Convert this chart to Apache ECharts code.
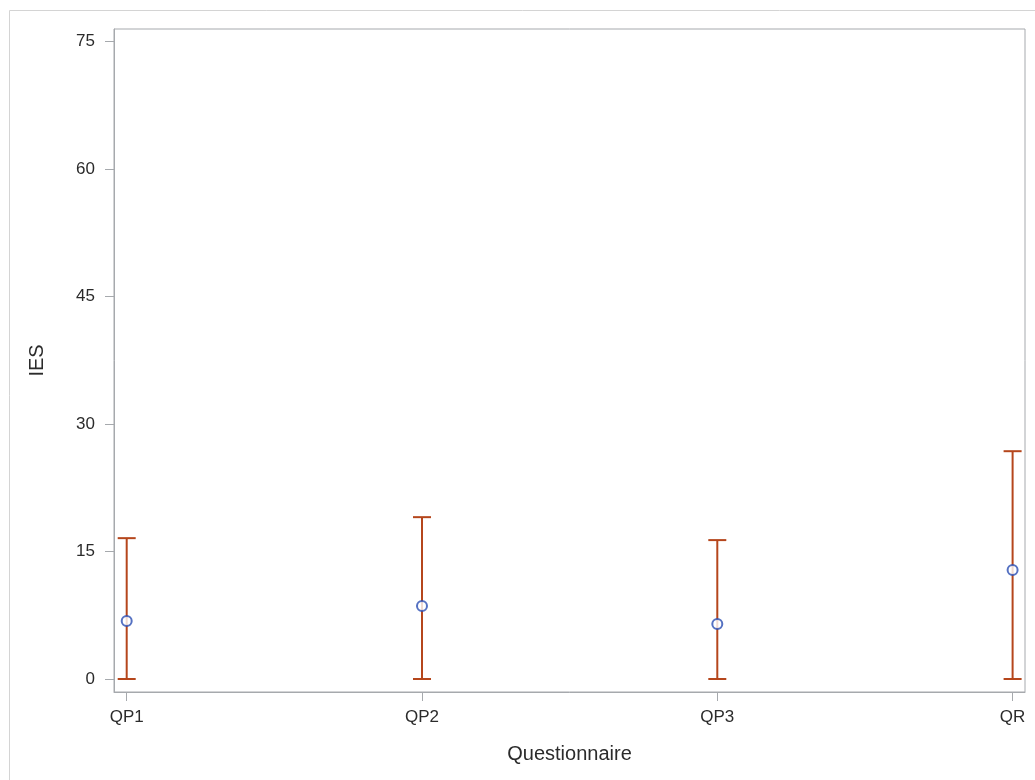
<!DOCTYPE html>
<html>
<head>
<meta charset="utf-8">
<script src="https://cdn.jsdelivr.net/npm/echarts@6/dist/echarts.min.js"></script>
<style>
html,body{margin:0;padding:0;background:#fff;}
#chart{width:1035px;height:780px;}
</style>
</head>
<body>
<div id="chart"></div>
<script>
const categories = ['QP1', 'QP2', 'QP3', 'QR'];
const means = [6.82, 8.58, 6.47, 12.81];
const lowers = [0, 0, 0, 0];
const uppers = [16.57, 19.04, 16.34, 26.8];
const yTicks = [0, 15, 30, 45, 60, 75];

const FONT = '"Liberation Sans", Arial, sans-serif';
const AXIS_COLOR = '#a6a9ad';
const BAR_COLOR = '#b5461c';
const MARK_COLOR = '#2a4db3';
const TEXT_COLOR = '#2b2b2b';

const chart = echarts.init(document.getElementById('chart'), null, {renderer: 'canvas'});

const barData = categories.map((c, i) => [i, lowers[i], uppers[i]]);
const meanData = categories.map((c, i) => [i, means[i]]);

chart.setOption({
  backgroundColor: '#fff',
  animation: false,
  graphic: [{
    type: 'rect',
    shape: {x: 9.5, y: 10.5, width: 1040, height: 800},
    style: {fill: 'none', stroke: '#d4d4d4', lineWidth: 1},
    silent: true
  }],
  grid: {left: 114, top: 29, right: 10, bottom: 88, show: true, borderColor: AXIS_COLOR, borderWidth: 1, backgroundColor: 'transparent'},
  xAxis: {
    type: 'value',
    min: -0.043,
    max: 3.042,
    name: 'Questionnaire',
    nameLocation: 'middle',
    nameGap: 52,
    nameTextStyle: {fontFamily: FONT, fontSize: 20, color: TEXT_COLOR},
    axisLine: {show: true, onZero: false, lineStyle: {color: AXIS_COLOR}},
    axisTick: {show: true, length: 9, customValues: [0, 1, 2, 3], lineStyle: {color: AXIS_COLOR}},
    axisLabel: {customValues: [0, 1, 2, 3], formatter: v => categories[v] || '', fontFamily: FONT, fontSize: 17, color: TEXT_COLOR, margin: 17},
    splitLine: {show: false}
  },
  yAxis: {
    type: 'value',
    min: -1.53,
    max: 76.47,
    name: 'IES',
    nameLocation: 'middle',
    nameGap: 67,
    nameRotate: 90,
    nameTextStyle: {fontFamily: FONT, fontSize: 20, color: TEXT_COLOR},
    axisLine: {show: true, onZero: false, lineStyle: {color: AXIS_COLOR}},
    axisTick: {show: true, length: 9, customValues: yTicks, lineStyle: {color: AXIS_COLOR}},
    axisLabel: {customValues: yTicks, fontFamily: FONT, fontSize: 17, color: TEXT_COLOR, margin: 19},
    splitLine: {show: false}
  },
  series: [{
    type: 'custom',
    data: barData,
    renderItem: function (params, api) {
      const x = api.value(0);
      const lo = api.coord([x, api.value(1)]);
      const hi = api.coord([x, api.value(2)]);
      const hw = 9;
      const style = {stroke: BAR_COLOR, lineWidth: 2, fill: 'none'};
      return {
        type: 'group',
        children: [
          {type: 'line', shape: {x1: lo[0], y1: lo[1], x2: hi[0], y2: hi[1]}, style: style},
          {type: 'line', shape: {x1: lo[0] - hw, y1: lo[1], x2: lo[0] + hw, y2: lo[1]}, style: style},
          {type: 'line', shape: {x1: hi[0] - hw, y1: hi[1], x2: hi[0] + hw, y2: hi[1]}, style: style}
        ]
      };
    },
    z: 2
  }, {
    type: 'scatter',
    data: meanData,
    symbol: 'circle',
    symbolSize: 10,
    itemStyle: {color: '#fff', borderColor: MARK_COLOR, borderWidth: 2},
    z: 3
  }]
});
</script>
</body>
</html>
